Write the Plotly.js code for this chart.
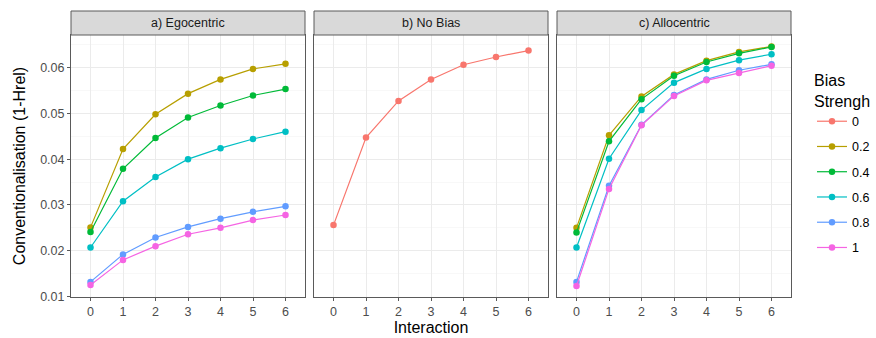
<!DOCTYPE html>
<html>
<head>
<meta charset="utf-8">
<script src="https://cdn.plot.ly/plotly-3.0.1.min.js"></script>
<style>html,body{margin:0;padding:0;background:#fff;}#chart{width:876px;height:338px;}</style>
</head>
<body>
<div id="chart"></div>
<script>
const interactions = [0, 1, 2, 3, 4, 5, 6];
const levels = ["0", "0.2", "0.4", "0.6", "0.8", "1"];
const colors = ["#F8766D", "#B79F00", "#00BA38", "#00BFC4", "#619CFF", "#F564E3"];
const panelTitles = ["a) Egocentric", "b) No Bias", "c) Allocentric"];
const yTicks = [0.01, 0.02, 0.03, 0.04, 0.05, 0.06];

// b) No Bias
const noBias0 = [0.0256, 0.0447, 0.0527, 0.0574, 0.0606, 0.0623, 0.0637];

// a) Egocentric
const ego02 = [0.0251, 0.0422, 0.0498, 0.0543, 0.0574, 0.0597, 0.0608];
const ego04 = [0.0241, 0.0379, 0.0446, 0.0491, 0.0517, 0.0539, 0.0553];
const ego06 = [0.0207, 0.0308, 0.0361, 0.0400, 0.0424, 0.0444, 0.0460];
const ego08 = [0.0132, 0.0192, 0.0229, 0.0252, 0.0270, 0.0285, 0.0297];
const ego1  = [0.0125, 0.0180, 0.0210, 0.0236, 0.0250, 0.0267, 0.0278];

// c) Allocentric
const allo02 = [0.0250, 0.0452, 0.0537, 0.0585, 0.0615, 0.0634, 0.0646];
const allo04 = [0.0240, 0.0439, 0.0531, 0.0582, 0.0612, 0.0631, 0.0645];
const allo06 = [0.0207, 0.0401, 0.0507, 0.0567, 0.0597, 0.0616, 0.0629];
const allo08 = [0.0132, 0.0342, 0.0475, 0.0540, 0.0574, 0.0594, 0.0607];
const allo1  = [0.0123, 0.0335, 0.0474, 0.0538, 0.0572, 0.0588, 0.0604];

const egoSeries = [null, ego02, ego04, ego06, ego08, ego1];
const alloSeries = [null, allo02, allo04, allo06, allo08, allo1];

function mk(y, i, xa, ya, show) {
  return {
    x: interactions, y: y, type: "scatter", mode: "lines+markers",
    name: levels[i], legendgroup: levels[i], showlegend: show,
    xaxis: xa, yaxis: ya,
    line: {color: colors[i], width: 1.2},
    marker: {color: colors[i], size: 6.5}
  };
}

const traces = [mk(noBias0, 0, "x2", "y2", true)];
for (let i = 1; i < levels.length; i++) {
  traces.push(mk(egoSeries[i], i, "x", "y", false));
  traces.push(mk(alloSeries[i], i, "x3", "y3", true));
}

const FONT = "Liberation Sans, Arial, sans-serif";
const border = "#5a5a5a";
const tickFont = {family: FONT, size: 12.5, color: "#4d4d4d"};
const yRange = [0.0099, 0.0671];
const xRange = [-0.6, 6.6];
const domains = [[0, 0.325], [0.3375, 0.6625], [0.675, 1]];

function xax(d, showTitle) {
  const a = {
    domain: d, range: xRange, tickvals: interactions, ticktext: interactions.map(String),
    ticks: "outside", ticklen: 3, tickcolor: border, tickfont: tickFont,
    showgrid: true, gridcolor: "#ebebeb", gridwidth: 1, zeroline: false,
    showline: true, mirror: true, linecolor: border, linewidth: 1, fixedrange: true
  };
  if (showTitle) a.title = {text: "Interaction", font: {family: FONT, size: 16, color: "#000"}, standoff: 3};
  return a;
}
function yax(anchor, labels) {
  return {
    anchor: anchor, range: yRange, tickvals: yTicks, ticktext: yTicks.map(v => v.toFixed(2)),
    showticklabels: labels, ticks: labels ? "outside" : "", ticklen: 3, tickcolor: border, tickfont: tickFont,
    showgrid: true, gridcolor: "#ebebeb", gridwidth: 1, zeroline: false,
    minor: {tickvals: [0.015, 0.025, 0.035, 0.045, 0.055, 0.065], showgrid: true, gridcolor: "#f4f4f4", gridwidth: 0.6},
    showline: true, mirror: true, linecolor: border, linewidth: 1, fixedrange: true
  };
}

const layout = {
  width: 876, height: 338,
  margin: {l: 71, r: 85, t: 35, b: 41, autoexpand: false},
  paper_bgcolor: "#fff", plot_bgcolor: "#fff",
  font: {family: FONT},
  xaxis: Object.assign(xax(domains[0], false), {anchor: "y"}),
  xaxis2: Object.assign(xax(domains[1], true), {anchor: "y2"}),
  xaxis3: Object.assign(xax(domains[2], false), {anchor: "y3"}),
  yaxis: Object.assign(yax("x", true), {title: {text: "Conventionalisation (1-Hrel)", font: {family: FONT, size: 16, color: "#000"}, standoff: 10}}),
  yaxis2: yax("x2", false),
  yaxis3: yax("x3", false),
  showlegend: true,
  legend: {
    xref: "container", yref: "container",
    x: 812 / 876, xanchor: "left", y: 1 - 65 / 338, yanchor: "top",
    maxheight: 320,
    title: {text: "Bias<br>Strengh", font: {family: FONT, size: 16, color: "#000"}},
    font: {family: FONT, size: 12.5, color: "#000"},
    traceorder: "grouped", tracegroupgap: 6, itemwidth: 30,
    bgcolor: "rgba(0,0,0,0)"
  },
  shapes: [], annotations: []
};

const axNames = ["", "2", "3"];
for (let k = 0; k < 3; k++) {
  layout.shapes.push({
    type: "rect", xref: "x" + axNames[k] + " domain", yref: "y" + axNames[k] + " domain",
    x0: 0, x1: 1, y0: 1, y1: 1 + 24 / 262,
    fillcolor: "#d9d9d9", line: {color: border, width: 1}, layer: "above"
  });
  layout.annotations.push({
    xref: "x" + axNames[k] + " domain", yref: "y" + axNames[k] + " domain",
    x: 0.5, y: 1 + 12 / 262, xanchor: "center", yanchor: "middle",
    text: panelTitles[k], showarrow: false,
    font: {family: FONT, size: 12.5, color: "#1a1a1a"}
  });
}

Plotly.newPlot("chart", traces, layout, {displayModeBar: false, staticPlot: true});
</script>
</body>
</html>
